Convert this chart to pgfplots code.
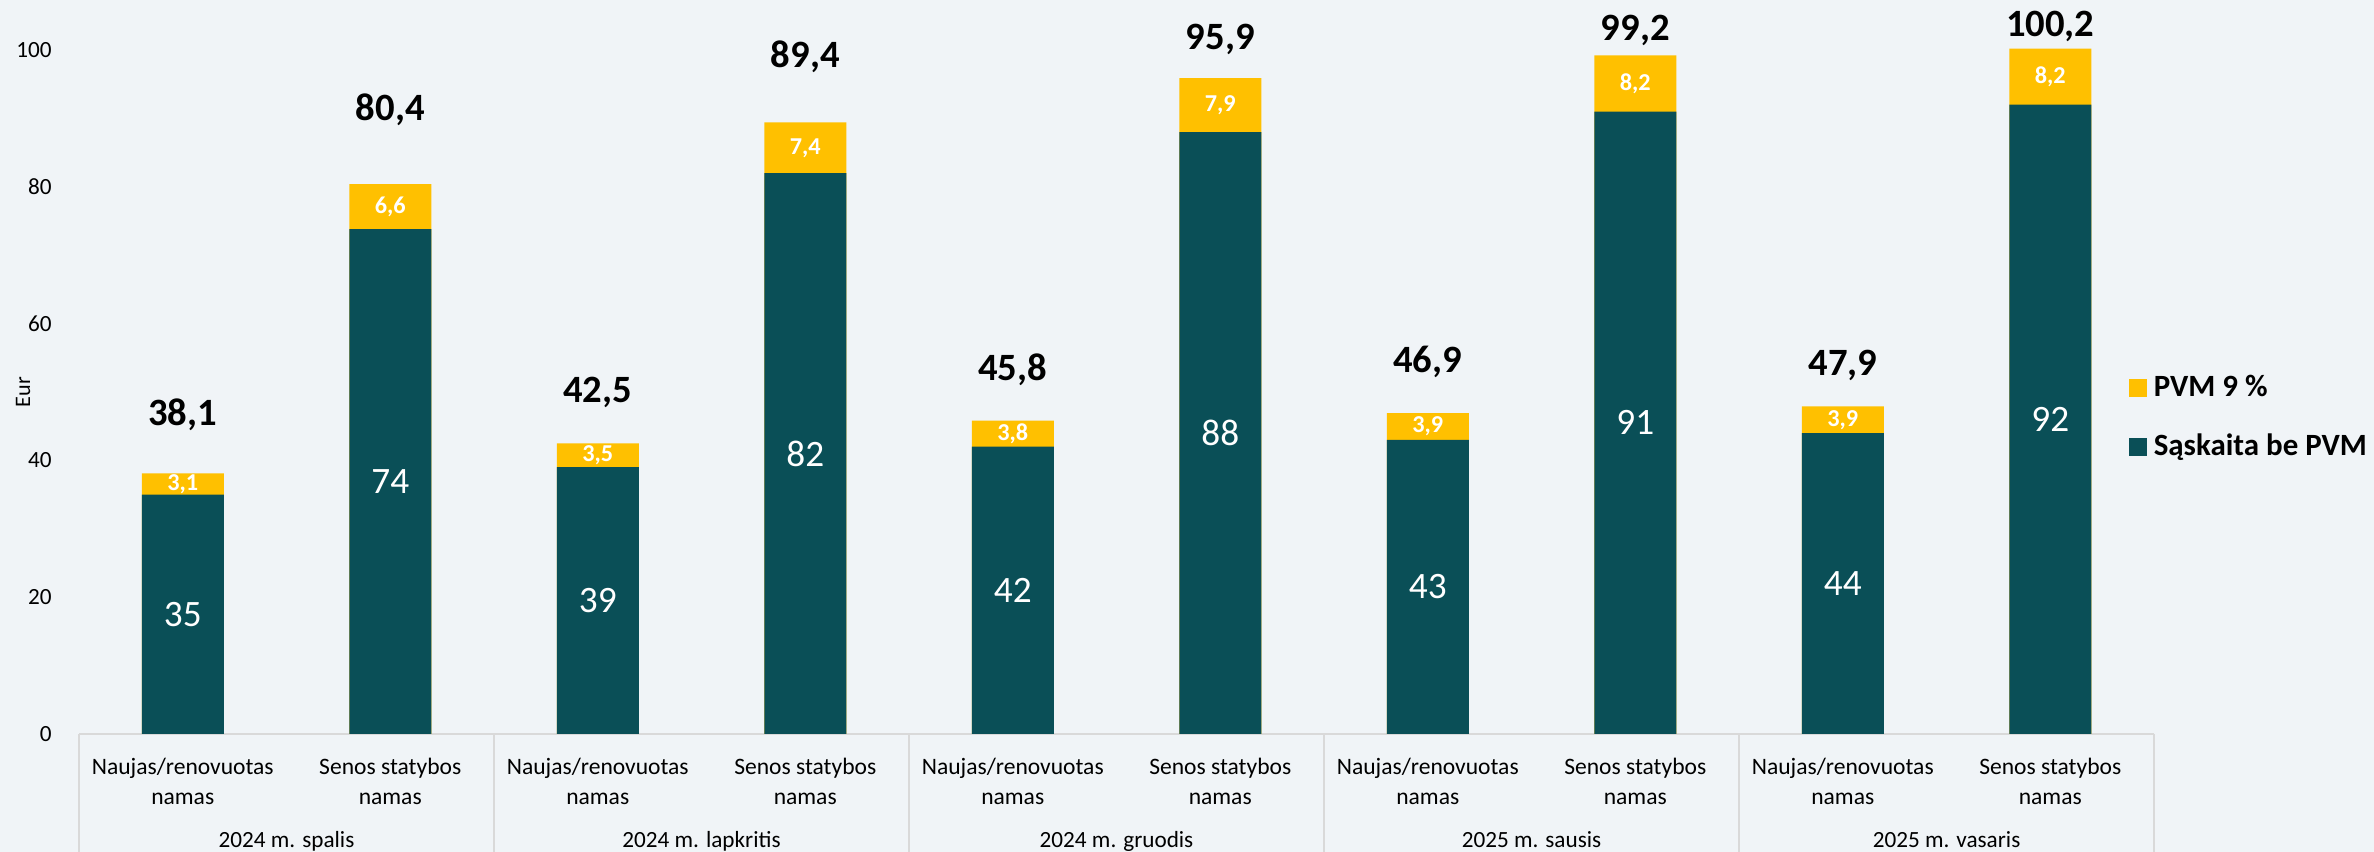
\documentclass[border=0pt]{standalone}
\usepackage{fontspec}
\setmainfont{Carlito}
\usepackage{pgfplots}
\pgfplotsset{compat=1.18}
\usepackage{pgfplotstable}

\definecolor{bazinis}{HTML}{0A4F57}
\definecolor{geltona}{HTML}{FFC000}
\definecolor{fonas}{HTML}{F0F4F7}
\definecolor{linija}{HTML}{D9D9D9}

% x: bar position, base: without VAT, vat: PVM 9 %, total: sum, lbly: height of total label
\pgfplotstableread{
x base vat total lbly
0 35.0 3.1 38.1 46.6
1 73.8 6.6 80.4 91.2
2 39.0 3.5 42.5 50.0
3 82.0 7.4 89.4 99.0
4 42.0 3.8 45.8 53.2
5 88.0 7.9 95.9 101.5
6 43.0 3.9 46.9 54.4
7 91.0 8.2 99.2 102.9
8 44.0 3.9 47.9 53.9
9 92.0 8.2 100.2 103.4
}\duomenys

\begin{document}
\begin{tikzpicture}
\fill[fonas] (0,0) rectangle (237.4mm,85.2mm);
\useasboundingbox (0,0) rectangle (237.4mm,85.2mm);
\begin{axis}[
    at={(7.9mm,11.8mm)}, anchor=south west,
    scale only axis,
    width=207.5mm, height=68.4mm,
    xmin=-0.5, xmax=9.5,
    ymin=0, ymax=100,
    clip=false,
    axis x line*=bottom,
    axis y line*=left,
    x axis line style={draw=linija, line width=0.2mm},
    y axis line style={draw=none},
    xtick={0,...,9},
    xticklabels={Naujas/renovuotas\\namas, Senos statybos\\namas,
                 Naujas/renovuotas\\namas, Senos statybos\\namas,
                 Naujas/renovuotas\\namas, Senos statybos\\namas,
                 Naujas/renovuotas\\namas, Senos statybos\\namas,
                 Naujas/renovuotas\\namas, Senos statybos\\namas},
    xticklabel style={align=center, font=\fontsize{6.7}{8.4}\selectfont, yshift=-1.2mm},
    ytick={0,20,...,100},
    yticklabel style={font=\fontsize{6.6}{7.8}\selectfont, xshift=-1.5mm},
    /pgf/number format/assume math mode=true,
    major tick length=0pt,
    xtick style={draw=none}, ytick style={draw=none},
    ylabel={Eur},
    every axis y label/.style={at={(axis description cs:-0.027,0.5)}, rotate=90, anchor=center,
        font=\fontsize{6.3}{7.5}\selectfont},
    legend style={at={(axis description cs:0.9875,0.462)}, anchor=west, draw=none, fill=none,
        font=\fontsize{8.8}{10}\selectfont\bfseries, row sep=1.8mm, inner sep=0pt},
    legend cell align=left,
    legend image code/.code={\draw[#1, draw=none] (0mm,-0.9mm) rectangle (1.8mm,0.9mm);},
]
\addplot[ybar, bar width=8.2mm, bar shift=0pt, fill=geltona, draw=none]
    table[x=x, y=total] {\duomenys};
\addlegendentry{PVM 9 \%}
\addplot[ybar, bar width=8.2mm, bar shift=0pt, fill=bazinis, draw=none]
    table[x=x, y=base] {\duomenys};
\addlegendentry{Sąskaita be PVM}

% labels inside the teal segments
\addplot[forget plot, only marks, mark=none, point meta=\thisrow{base},
    nodes near coords={\pgfmathprintnumber[fixed, precision=0]{\pgfplotspointmeta}},
    every node near coord/.append style={anchor=center, text=white,
        font=\fontsize{10.6}{12}\selectfont}]
    table[x=x, y expr=\thisrow{base}/2] {\duomenys};
% labels inside the yellow segments
\addplot[forget plot, only marks, mark=none, point meta=\thisrow{vat},
    nodes near coords={\pgfmathprintnumber[fixed, fixed zerofill, precision=1, use comma]{\pgfplotspointmeta}},
    every node near coord/.append style={anchor=center, text=white,
        font=\fontsize{6.9}{8}\selectfont\bfseries}]
    table[x=x, y expr=\thisrow{base}+\thisrow{vat}/2] {\duomenys};
% totals above the bars
\addplot[forget plot, only marks, mark=none, point meta=\thisrow{total},
    nodes near coords={\pgfmathprintnumber[fixed, fixed zerofill, precision=1, use comma]{\pgfplotspointmeta}},
    every node near coord/.append style={anchor=center, text=black,
        font=\fontsize{11}{13}\selectfont\bfseries}]
    table[x=x, y=lbly] {\duomenys};

% group separators and group names
\pgfplotsinvokeforeach{-0.5,1.5,3.5,5.5,7.5,9.5}{
    \draw[linija, line width=0.2mm] (axis cs:#1,0) -- ([yshift=-11.8mm]axis cs:#1,0);
}
\node[anchor=base, font=\fontsize{6.6}{7.9}\selectfont, yshift=-11.4mm] at (axis cs:0.5,0) {2024 m. spalis};
\node[anchor=base, font=\fontsize{6.6}{7.9}\selectfont, yshift=-11.4mm] at (axis cs:2.5,0) {2024 m. lapkritis};
\node[anchor=base, font=\fontsize{6.6}{7.9}\selectfont, yshift=-11.4mm] at (axis cs:4.5,0) {2024 m. gruodis};
\node[anchor=base, font=\fontsize{6.6}{7.9}\selectfont, yshift=-11.4mm] at (axis cs:6.5,0) {2025 m. sausis};
\node[anchor=base, font=\fontsize{6.6}{7.9}\selectfont, yshift=-11.4mm] at (axis cs:8.5,0) {2025 m. vasaris};
\end{axis}
\end{tikzpicture}
\end{document}
